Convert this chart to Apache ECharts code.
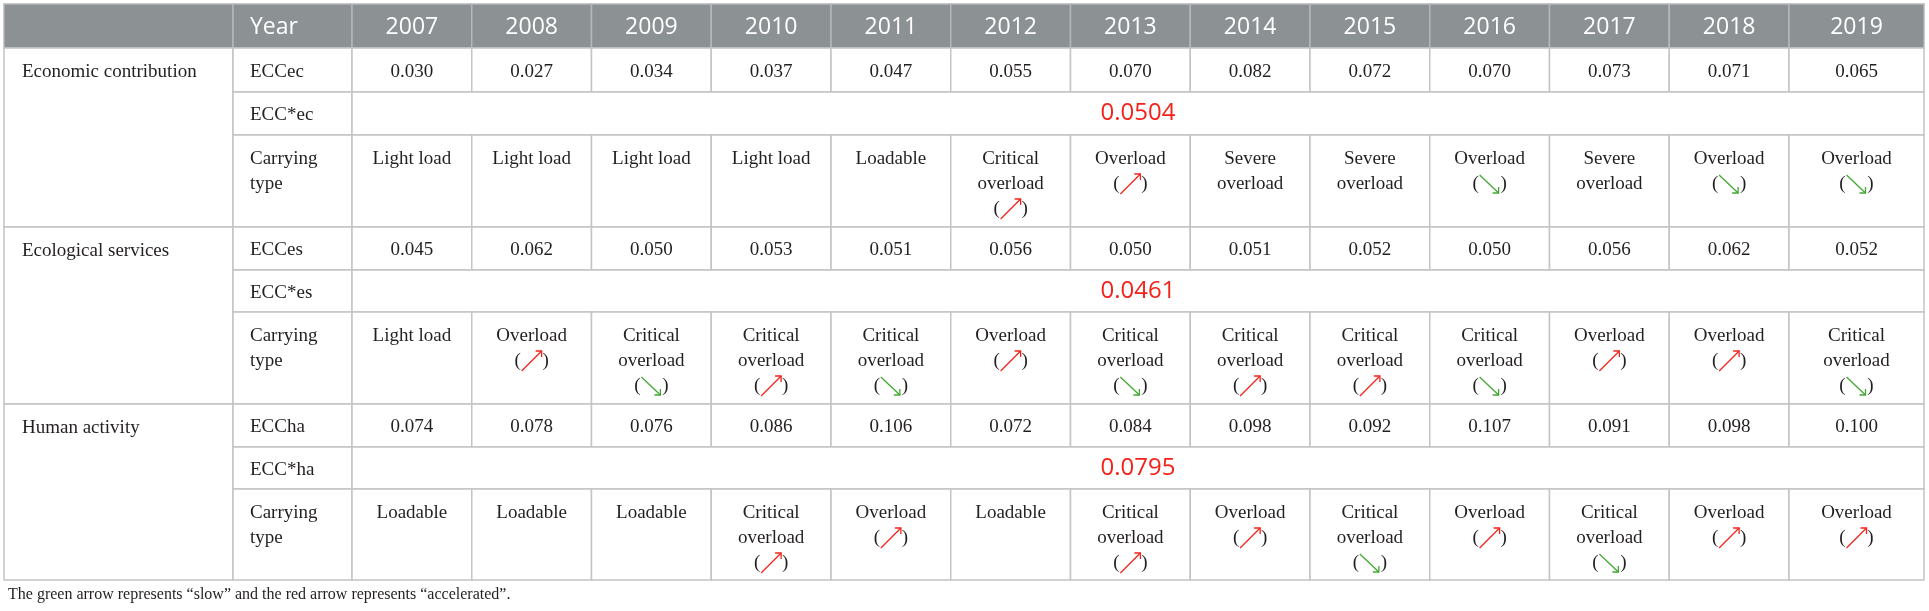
<!DOCTYPE html>
<html><head><meta charset="utf-8">
<script src="https://cdn.jsdelivr.net/npm/echarts@6/dist/echarts.min.js"></script>
<style>html,body{margin:0;padding:0;background:#fff}#chart{width:1929px;height:611px}</style>
</head><body><div id="chart"></div>
<script>
// ---------------- data ----------------
const years = ['2007','2008','2009','2010','2011','2012','2013','2014','2015','2016','2017','2018','2019'];
const groupNames = ['Economic contribution','Ecological services','Human activity'];
const indicatorEc = ['ECCec','ECC*ec','Carrying type'];
const indicatorEs = ['ECCes','ECC*es','Carrying type'];
const indicatorHa = ['ECCha','ECC*ha','Carrying type'];
const eccEc = [0.030,0.027,0.034,0.037,0.047,0.055,0.070,0.082,0.072,0.070,0.073,0.071,0.065];
const eccEs = [0.045,0.062,0.050,0.053,0.051,0.056,0.050,0.051,0.052,0.050,0.056,0.062,0.052];
const eccHa = [0.074,0.078,0.076,0.086,0.106,0.072,0.084,0.098,0.092,0.107,0.091,0.098,0.100];
const eccStarEc = 0.0504;
const eccStarEs = 0.0461;
const eccStarHa = 0.0795;
const typeEc = ['Light load','Light load','Light load','Light load','Loadable','Critical overload','Overload','Severe overload','Severe overload','Overload','Severe overload','Overload','Overload'];
const trendEc = ['','','','','','up','up','','','down','','down','down'];
const typeEs = ['Light load','Overload','Critical overload','Critical overload','Critical overload','Overload','Critical overload','Critical overload','Critical overload','Critical overload','Overload','Overload','Critical overload'];
const trendEs = ['','up','down','up','down','up','down','up','up','down','up','up','down'];
const typeHa = ['Loadable','Loadable','Loadable','Critical overload','Overload','Loadable','Critical overload','Overload','Critical overload','Overload','Critical overload','Overload','Overload'];
const trendHa = ['','','','up','up','','up','up','down','up','down','up','up'];
const footnote = 'The green arrow represents \u201cslow\u201d and the red arrow represents \u201caccelerated\u201d.';

// ---------------- layout / style ----------------
const SERIF = '"Liberation Serif", "DejaVu Serif", serif';
const SANS = '"Open Sans", "Noto Sans", sans-serif';
const BODY_SIZE = 19, HEAD_SIZE = 23, STAR_SIZE = 24, LINE_H = 25;
const TEXT_C = '#231f20', HEAD_BG = '#8c9194', HEAD_LINE = '#b5b8ba', GRID_LINE = '#c4c4c4';
const RED = '#f4221a', GREEN = '#43a833';
const colWidths = [229, 119].concat(years.map((y, i) => i === years.length - 1 ? 135 : 119.75));
const HEADER_H = 44;
const groupRowH = [[44, 43, 92], [43, 42, 92], [43, 42, 91]];

const groups = [
  {name: groupNames[0], ind: indicatorEc, vals: eccEc, star: eccStarEc, types: typeEc, trends: trendEc},
  {name: groupNames[1], ind: indicatorEs, vals: eccEs, star: eccStarEs, types: typeEs, trends: trendEs},
  {name: groupNames[2], ind: indicatorHa, vals: eccHa, star: eccStarHa, types: typeHa, trends: trendHa}
];

const xE = [0];
colWidths.forEach(w => xE.push(xE[xE.length - 1] + w));
const totalW = xE[xE.length - 1];

const measureCtx = document.createElement('canvas').getContext('2d');
function wrap(text, maxW) {
  measureCtx.font = BODY_SIZE + 'px ' + SERIF;
  const words = text.split(' ');
  const lines = [];
  let cur = '';
  words.forEach(w => {
    const t = cur ? cur + ' ' + w : w;
    if (cur && measureCtx.measureText(t).width > maxW) { lines.push(cur); cur = w; }
    else cur = t;
  });
  if (cur) lines.push(cur);
  return lines;
}

// build cells
const cells = [];
cells.push({x0: xE[0], x1: xE[1], y0: 0, y1: HEADER_H, kind: 'head', text: ''});
cells.push({x0: xE[1], x1: xE[2], y0: 0, y1: HEADER_H, kind: 'head', text: 'Year', align: 'left'});
years.forEach((yr, i) => cells.push({x0: xE[i + 2], x1: xE[i + 3], y0: 0, y1: HEADER_H, kind: 'head', text: yr, align: 'center'}));
let yCur = HEADER_H;
groups.forEach((g, gi) => {
  const rh = groupRowH[gi];
  const gy0 = yCur;
  const r0 = yCur, r1 = r0 + rh[0], r2 = r1 + rh[1], r3 = r2 + rh[2];
  cells.push({x0: xE[0], x1: xE[1], y0: gy0, y1: r3, kind: 'body', text: g.name, align: 'left', top: true});
  cells.push({x0: xE[1], x1: xE[2], y0: r0, y1: r1, kind: 'body', text: g.ind[0], align: 'left'});
  g.vals.forEach((v, i) => cells.push({x0: xE[i + 2], x1: xE[i + 3], y0: r0, y1: r1, kind: 'body', text: v.toFixed(3), align: 'center'}));
  cells.push({x0: xE[1], x1: xE[2], y0: r1, y1: r2, kind: 'body', text: g.ind[1], align: 'left'});
  cells.push({x0: xE[2], x1: xE[xE.length - 1], y0: r1, y1: r2, kind: 'star', text: g.star.toFixed(4), align: 'center'});
  cells.push({x0: xE[1], x1: xE[2], y0: r2, y1: r3, kind: 'body', text: g.ind[2], align: 'left', top: true, wrap: true});
  g.types.forEach((t, i) => cells.push({x0: xE[i + 2], x1: xE[i + 3], y0: r2, y1: r3, kind: 'body', text: t, align: 'center', top: true, wrap: true, trend: g.trends[i]}));
  yCur = r3;
});
const totalH = yCur;

function arrowShapes(cx, cy, dir) {
  const color = dir === 'up' ? RED : GREEN;
  let tail, tip, b1, b2;
  if (dir === 'up') {
    tail = [cx - 10, cy + 10]; tip = [cx + 10, cy - 10];
    b1 = [tip[0] - 6, tip[1]]; b2 = [tip[0], tip[1] + 6];
  } else {
    tail = [cx - 10, cy - 9]; tip = [cx + 9, cy + 9];
    b1 = [tip[0] - 6, tip[1]]; b2 = [tip[0], tip[1] - 6];
  }
  const st = {stroke: color, lineWidth: 1.3, fill: null};
  return [
    {type: 'polyline', shape: {points: [tail, tip]}, style: st},
    {type: 'polyline', shape: {points: [b1, tip, b2]}, style: st}
  ];
}

function renderItem(params, api) {
  const c = cells[api.value(4)];
  const p0 = api.coord([api.value(0), api.value(2)]);
  const p1 = api.coord([api.value(1), api.value(3)]);
  const x = p0[0], y = p0[1], w = p1[0] - p0[0], h = p1[1] - p0[1];
  const head = c.kind === 'head';
  const children = [{
    type: 'rect', shape: {x: x, y: y, width: w, height: h},
    style: {fill: head ? HEAD_BG : '#fff', stroke: head ? HEAD_LINE : GRID_LINE, lineWidth: 1.5}
  }];
  if (!c.text) return {type: 'group', children: children};
  const padL = c.x0 === 0 ? 18 : 17;
  const tx = c.align === 'left' ? x + padL : x + w / 2;
  if (head) {
    children.push({type: 'text', style: {text: c.text, x: tx, y: y + h / 2 + 1, fill: '#fff', fontSize: HEAD_SIZE, fontFamily: SANS, align: c.align, verticalAlign: 'middle'}});
  } else if (c.kind === 'star') {
    children.push({type: 'text', style: {text: c.text, x: tx, y: y + h / 2, fill: RED, fontSize: STAR_SIZE, fontFamily: SANS, align: 'center', verticalAlign: 'middle'}});
  } else {
    const lines = c.wrap ? wrap(c.text, (c.align === 'left' ? w - 2 * padL : w - 20)) : [c.text];
    const firstY = c.top ? y + 24 : y + h / 2 + 2;
    lines.forEach((ln, i) => {
      children.push({type: 'text', style: {text: ln, x: tx, y: firstY + i * LINE_H, fill: TEXT_C, fontSize: BODY_SIZE, fontFamily: SERIF, align: c.align, verticalAlign: 'middle'}});
    });
    if (c.trend) {
      const cy = firstY + lines.length * LINE_H;
      children.push({type: 'text', style: {text: '(', x: tx - 14, y: cy, fill: TEXT_C, fontSize: BODY_SIZE, fontFamily: SERIF, align: 'center', verticalAlign: 'middle'}});
      children.push({type: 'text', style: {text: ')', x: tx + 14, y: cy, fill: TEXT_C, fontSize: BODY_SIZE, fontFamily: SERIF, align: 'center', verticalAlign: 'middle'}});
      arrowShapes(tx, cy, c.trend).forEach(s => children.push(s));
    }
  }
  return {type: 'group', children: children};
}

const chart = echarts.init(document.getElementById('chart'), null, {renderer: 'canvas'});
chart.setOption({
  animation: false,
  backgroundColor: '#fff',
  title: {
    text: footnote, left: 3, top: 582,
    textStyle: {fontFamily: SERIF, fontSize: 16, fontWeight: 'normal', color: TEXT_C}
  },
  grid: {left: 4, top: 4, width: totalW, height: totalH},
  xAxis: {type: 'value', min: 0, max: totalW, show: false},
  yAxis: {type: 'value', min: 0, max: totalH, inverse: true, show: false},
  series: [{
    type: 'custom',
    renderItem: renderItem,
    encode: {x: [0, 1], y: [2, 3]},
    data: cells.map((c, i) => [c.x0, c.x1, c.y0, c.y1, i]),
    silent: true
  }]
});
</script></body></html>
